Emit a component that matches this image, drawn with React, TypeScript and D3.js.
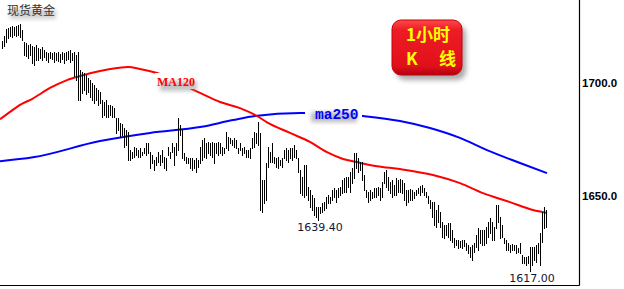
import React from "react";
import * as d3 from "d3";

// Spot gold, 1-hour bars: high / low per bar
const highs = [
  1718.6, 1720.8, 1723.9, 1724.3, 1724.8, 1725.2, 1724.8, 1725.2, 1725.7, 1726.1,
  1723.5, 1718.1, 1717.7, 1716.8, 1717.3, 1716.4, 1715.9, 1716.8, 1715.5, 1715.1,
  1715.9, 1714.6, 1713.7, 1713.3, 1713.7, 1713.3, 1713.7, 1713.3, 1713.7, 1712.8,
  1713.7, 1713.3, 1713.7, 1714.2, 1714.6, 1713.3, 1713.7, 1712.4, 1713.7, 1705.8,
  1704.9, 1704.4, 1703.5, 1702.2, 1701.3, 1700.0, 1699.1, 1697.8, 1696.9, 1696.0,
  1692.5, 1691.6, 1692.5, 1690.3, 1690.3, 1689.8, 1688.9, 1684.5, 1684.5, 1682.3,
  1681.8, 1680.1, 1679.2, 1678.3, 1670.3, 1669.4, 1671.7, 1671.2, 1670.3, 1671.2,
  1669.4, 1671.2, 1673.4, 1673.4, 1669.4, 1668.1, 1665.9, 1667.2, 1669.4, 1668.1,
  1670.3, 1667.2, 1666.8, 1671.7, 1669.4, 1673.4, 1671.7, 1673.4, 1684.5, 1681.4,
  1679.2, 1669.0, 1667.2, 1666.8, 1666.8, 1666.8, 1665.9, 1666.8, 1665.9, 1671.7,
  1674.8, 1675.7, 1673.4, 1673.9, 1673.4, 1673.9, 1673.4, 1673.4, 1673.9, 1673.4,
  1671.7, 1671.2, 1678.3, 1676.1, 1675.7, 1674.8, 1675.7, 1674.8, 1671.2, 1673.4,
  1671.2, 1671.7, 1670.3, 1670.3, 1671.2, 1675.7, 1678.3, 1677.9, 1682.7, 1677.9,
  1657.1, 1657.1, 1664.6, 1671.7, 1669.4, 1673.4, 1667.2, 1666.8, 1667.2, 1665.9,
  1666.8, 1670.3, 1671.2, 1670.3, 1671.2, 1671.2, 1672.5, 1670.3, 1666.8, 1661.5,
  1658.4, 1663.7, 1663.7, 1654.0, 1652.6, 1650.4, 1649.1, 1645.1, 1645.1, 1645.1,
  1646.9, 1647.3, 1649.5, 1650.4, 1649.5, 1652.6, 1653.5, 1652.6, 1653.5, 1654.0,
  1657.1, 1657.9, 1658.4, 1658.4, 1660.6, 1662.4, 1669.0, 1669.0, 1666.8, 1665.0,
  1665.0, 1659.3, 1652.6, 1651.7, 1652.6, 1651.7, 1653.5, 1653.5, 1654.0, 1653.5,
  1656.2, 1660.6, 1661.5, 1658.4, 1656.2, 1657.1, 1654.8, 1657.9, 1657.1, 1657.5,
  1657.1, 1655.7, 1652.6, 1652.6, 1653.1, 1652.6, 1651.7, 1652.6, 1653.5, 1654.4,
  1654.8, 1653.5, 1651.7, 1650.0, 1648.2, 1647.3, 1647.3, 1643.8, 1646.0, 1642.9,
  1638.5, 1637.1, 1637.1, 1638.0, 1638.0, 1634.9, 1631.4, 1630.5, 1630.5, 1630.1,
  1630.5, 1630.5, 1629.2, 1628.3, 1627.4, 1628.3, 1629.2, 1632.7, 1635.8, 1634.9,
  1634.9, 1634.9, 1636.3, 1638.5, 1640.3, 1638.5, 1636.3, 1646.0, 1646.0, 1640.7,
  1637.1, 1631.4, 1630.5, 1629.2, 1628.3, 1628.7, 1628.3, 1628.3, 1627.0, 1629.2,
  1623.9, 1623.0, 1623.0, 1623.4, 1627.4, 1627.4, 1627.4, 1628.3, 1629.2, 1633.6,
  1642.9, 1645.1, 1643.8,
];

const lows = [
  1715.5, 1716.4, 1718.1, 1719.9, 1720.8, 1720.4, 1721.2, 1720.8, 1721.2, 1720.4,
  1719.0, 1712.4, 1712.0, 1711.1, 1712.4, 1708.9, 1708.0, 1710.2, 1710.2, 1711.1,
  1710.2, 1711.5, 1710.2, 1709.3, 1711.1, 1710.6, 1709.3, 1710.2, 1709.7, 1709.3,
  1710.6, 1708.9, 1710.2, 1710.6, 1709.3, 1710.2, 1703.1, 1701.3, 1692.5, 1692.5,
  1695.6, 1696.9, 1695.1, 1696.0, 1693.8, 1692.5, 1691.1, 1692.5, 1690.3, 1691.1,
  1685.0, 1685.8, 1685.0, 1685.0, 1685.8, 1685.0, 1685.0, 1677.9, 1679.2, 1676.1,
  1677.0, 1671.7, 1672.5, 1665.9, 1665.9, 1666.8, 1667.2, 1668.1, 1667.2, 1667.2,
  1668.1, 1669.0, 1668.1, 1669.0, 1662.4, 1664.6, 1661.5, 1663.7, 1665.0, 1663.7,
  1665.0, 1662.4, 1661.5, 1668.1, 1666.8, 1669.4, 1663.7, 1668.1, 1670.3, 1677.0,
  1666.8, 1665.9, 1664.6, 1664.6, 1662.4, 1661.5, 1662.4, 1660.6, 1662.8, 1664.6,
  1665.9, 1667.2, 1666.8, 1669.0, 1668.1, 1667.2, 1664.6, 1669.0, 1668.1, 1669.0,
  1668.1, 1669.0, 1671.2, 1670.3, 1673.4, 1672.5, 1671.7, 1671.2, 1669.0, 1670.3,
  1668.1, 1669.0, 1667.2, 1667.2, 1666.8, 1671.2, 1671.7, 1673.4, 1672.5, 1643.8,
  1642.9, 1646.9, 1648.2, 1662.8, 1665.0, 1665.0, 1664.6, 1662.8, 1662.4, 1663.7,
  1662.8, 1666.8, 1665.9, 1665.0, 1666.8, 1665.9, 1667.2, 1666.8, 1660.6, 1651.3,
  1650.4, 1649.5, 1650.4, 1648.2, 1645.1, 1643.8, 1641.6, 1640.7, 1639.4, 1642.5,
  1642.9, 1643.8, 1644.7, 1646.9, 1646.9, 1648.2, 1649.5, 1647.3, 1649.5, 1650.4,
  1651.3, 1651.7, 1651.7, 1654.0, 1651.7, 1655.7, 1657.9, 1662.4, 1660.6, 1661.5,
  1657.1, 1652.6, 1649.5, 1647.3, 1648.2, 1649.1, 1649.5, 1649.5, 1650.4, 1648.2,
  1649.5, 1655.7, 1654.0, 1652.6, 1651.3, 1649.5, 1650.4, 1650.4, 1651.7, 1651.7,
  1651.3, 1648.2, 1646.0, 1647.3, 1648.2, 1648.2, 1649.1, 1650.4, 1651.3, 1650.4,
  1651.7, 1650.4, 1649.5, 1646.9, 1644.7, 1640.7, 1637.1, 1636.3, 1638.5, 1636.3,
  1631.8, 1631.4, 1632.7, 1631.8, 1630.5, 1629.6, 1627.4, 1628.3, 1627.0, 1627.4,
  1627.0, 1627.8, 1626.1, 1624.7, 1623.0, 1621.7, 1625.2, 1627.4, 1626.1, 1629.2,
  1628.3, 1628.3, 1629.2, 1631.8, 1633.6, 1630.5, 1630.5, 1635.8, 1638.5, 1631.4,
  1631.8, 1629.2, 1626.1, 1626.1, 1625.2, 1626.1, 1626.1, 1624.7, 1625.2, 1624.7,
  1620.3, 1620.3, 1619.4, 1620.3, 1617.0, 1619.4, 1621.7, 1620.8, 1624.7, 1619.4,
  1629.6, 1635.8, 1636.3,
];

// Moving averages sampled as [bar index, price]
const ma120: [number, number][] = [
  [-1, 1684.0], [4, 1687.2], [9, 1690.3], [15, 1692.9], [24, 1697.8], [32.5, 1701.3],
  [39, 1703.1], [49, 1705.3], [57.5, 1706.6], [63, 1707.1], [69, 1706.2], [77.5, 1704.4],
  [99, 1695.6], [109, 1691.6], [119, 1688.9], [127.5, 1685.4], [132.5, 1682.6], [144, 1677.9],
  [154, 1673.9], [162.5, 1669.4], [170.5, 1666.4], [177.5, 1665.0], [187.5, 1663.2],
  [199, 1661.9], [215.5, 1659.3], [229, 1655.7], [240.5, 1651.3], [254, 1647.3],
  [265.5, 1643.8], [272.5, 1642.5],
];

const ma250: [number, number][] = [
  [-1, 1665.4], [15.5, 1667.1], [49, 1674.3], [74, 1677.9], [99, 1680.5], [115.5, 1683.6],
  [126.5, 1685.4], [149, 1686.7], [165, 1686.6], [180.5, 1685.4], [199, 1683.2],
  [214, 1680.1], [229, 1675.7], [242.5, 1670.3], [259, 1664.6], [272.5, 1660.1],
];

const priceTicks = [1650, 1700];
const lowMarks = [
  { index: 158, label: "1639.40" },
  { index: 264, label: "1617.00" },
];

const W = 624;
const H = 289;
const axisX = 579.5;
const axisY = 285.5;

export default function App() {
  const x = d3.scaleLinear().domain([0, highs.length - 1]).range([2, 546]);
  const y = d3.scaleLinear().domain([1650, 1700]).range([196, 83]);

  const line = d3
    .line<[number, number]>()
    .x((d) => x(d[0]))
    .y((d) => y(d[1]))
    .curve(d3.curveMonotoneX);

  return (
    <svg
      width={W}
      height={H}
      style={{ position: "absolute", left: 0, top: 0, background: "#fff" }}
    >
      <defs>
        <filter id="soft" x="-30%" y="-30%" width="160%" height="160%">
          <feGaussianBlur stdDeviation="2" />
        </filter>
        <filter id="softBig" x="-30%" y="-30%" width="160%" height="160%">
          <feGaussianBlur stdDeviation="2.5" />
        </filter>
        <linearGradient id="badge" x1="0" y1="0" x2="0" y2="1">
          <stop offset="0" stopColor="#ff4a4a" />
          <stop offset="0.18" stopColor="#ee1c24" />
          <stop offset="0.85" stopColor="#e0101a" />
          <stop offset="1" stopColor="#b00010" />
        </linearGradient>
      </defs>

      {/* title */}
      <rect x={10} y={9} width={46} height={10} fill="#999" opacity={0.45} filter="url(#soft)" />
      <text
        x={7}
        y={15}
        fontFamily="'Noto Sans CJK SC', sans-serif"
        fontSize={12}
        fill="#333"
      >
        现货黄金
      </text>

      {/* moving averages */}
      <path d={line(ma250) ?? ""} fill="none" stroke="#0000ff" strokeWidth={2} />
      <path d={line(ma120) ?? ""} fill="none" stroke="#ff0000" strokeWidth={2} />

      {/* price bars */}
      <g stroke="#000" strokeWidth={1} shapeRendering="crispEdges">
        {highs.map((h, i) => (
          <line
            key={i}
            x1={Math.round(x(i)) + 0.5}
            x2={Math.round(x(i)) + 0.5}
            y1={y(h)}
            y2={y(lows[i]) + 1}
          />
        ))}
      </g>

      {/* MA labels */}
      <rect x={155} y={73} width={45} height={16} fill="#fff" />
      <rect x={160} y={81} width={37} height={10} fill="#888" opacity={0.5} filter="url(#soft)" />
      <text
        x={157}
        y={86}
        fontFamily="'Liberation Serif', serif"
        fontWeight="bold"
        fontSize={12}
        fill="#ff0000"
      >
        MA120
      </text>

      <rect x={305} y={106} width={57} height={16} fill="#fff" />
      <rect x={311} y={112} width={46} height={10} fill="#777" opacity={0.5} filter="url(#soft)" />
      <text
        x={315}
        y={119}
        fontFamily="'Liberation Mono', monospace"
        fontWeight="bold"
        fontSize={14.5}
        fill="#0000ff"
      >
        ma250
      </text>

      {/* timeframe badge */}
      <rect x={396} y={25} width={70} height={55} rx={9} fill="#666" opacity={0.55} filter="url(#softBig)" />
      <rect x={392} y={20} width={70} height={55} rx={9} fill="url(#badge)" stroke="#c40010" strokeWidth={1} />
      <text
        x={406}
        y={41}
        fontFamily="'Noto Sans CJK SC', serif"
        fontWeight="bold"
        fontSize={17}
        fill="#ffff00"
      >
        1小时
      </text>
      <text
        x={406}
        y={65}
        fontFamily="'Noto Sans CJK SC', serif"
        fontWeight="bold"
        fontSize={17}
        fill="#ffff00"
      >
        K
      </text>
      <text
        x={439}
        y={65}
        fontFamily="'Noto Sans CJK SC', serif"
        fontWeight="bold"
        fontSize={17}
        fill="#ffff00"
      >
        线
      </text>

      {/* low annotations */}
      {lowMarks.map((m) => (
        <text
          key={m.label}
          x={x(m.index) + 2}
          y={y(lows[m.index]) + 11}
          textAnchor="middle"
          fontFamily="'DejaVu Sans', sans-serif"
          fontSize={11}
          fill="#141434"
        >
          {m.label}
        </text>
      ))}

      {/* axes */}
      <line x1={axisX} x2={axisX} y1={0} y2={axisY} stroke="#000" strokeWidth={1.2} />
      <line x1={0} x2={axisX} y1={axisY} y2={axisY} stroke="#000" strokeWidth={1.2} />
      {priceTicks.map((t) => (
        <text
          key={t}
          x={582}
          y={y(t) + 4}
          fontFamily="'Liberation Sans', Arial, sans-serif"
          fontWeight="bold"
          fontSize={11.5}
          fill="#000"
        >
          {t.toFixed(1)}
        </text>
      ))}
    </svg>
  );
}
